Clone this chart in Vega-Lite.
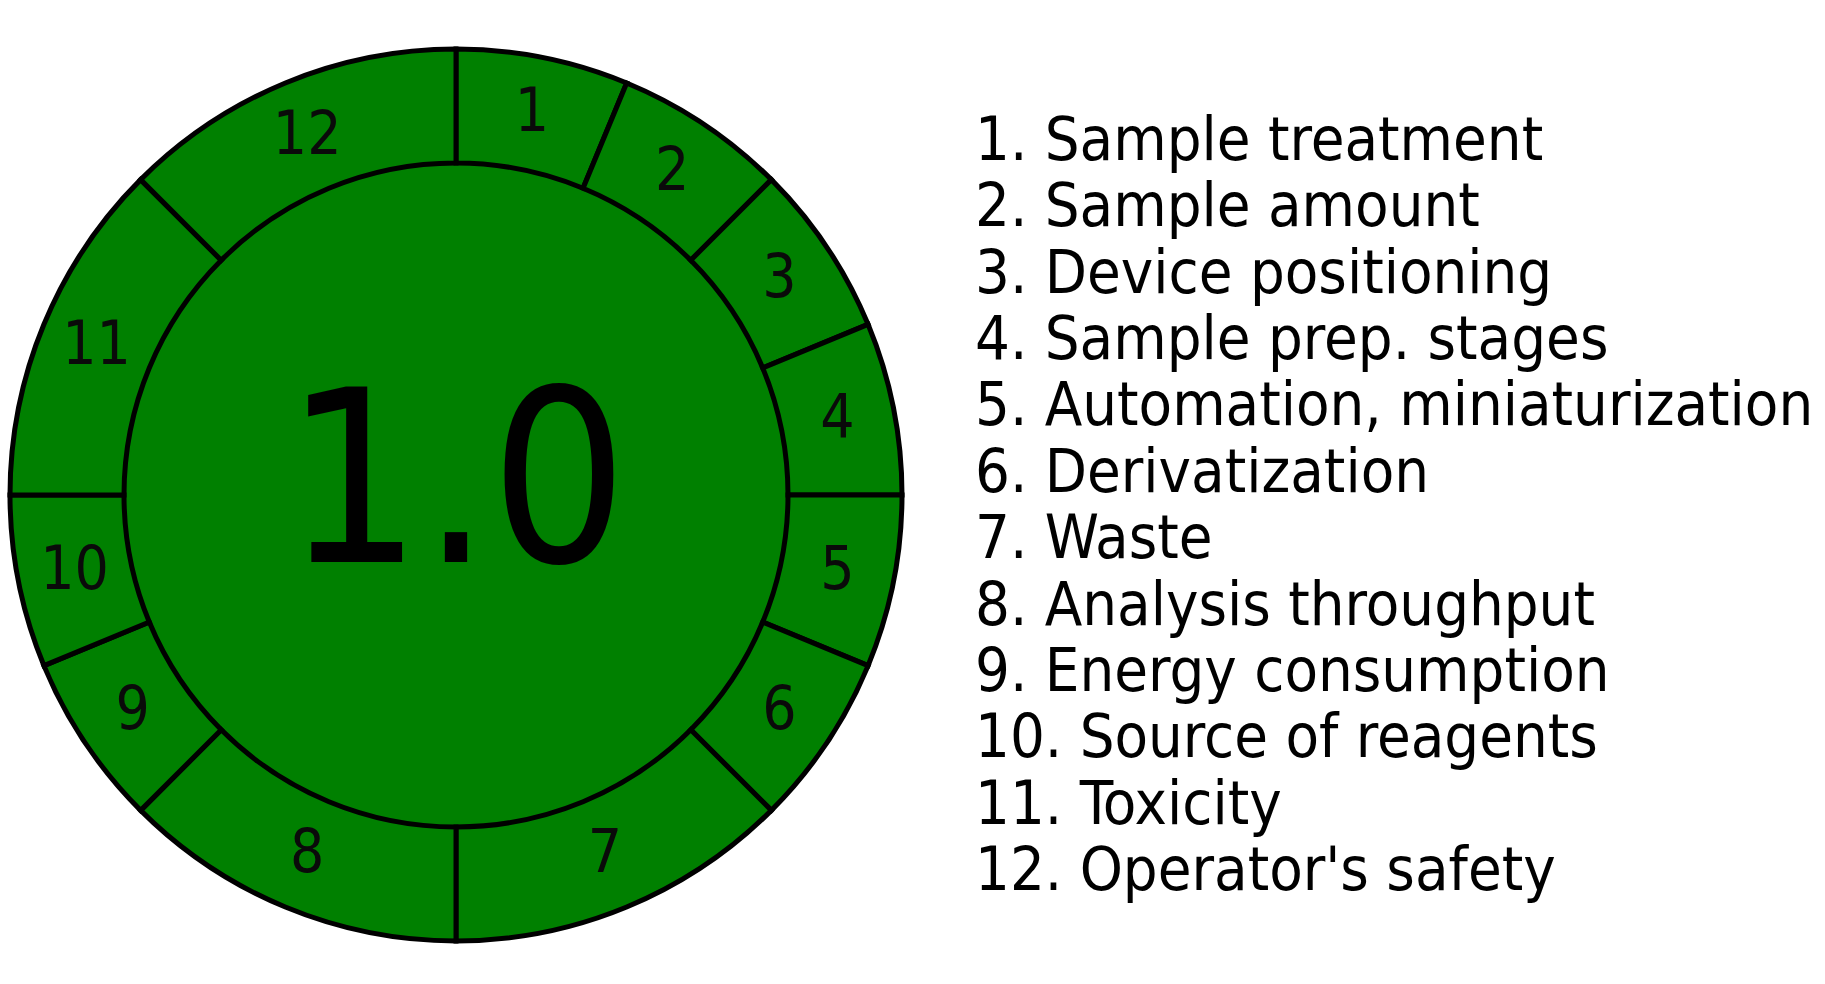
{
  "$schema": "https://vega.github.io/schema/vega-lite/v6.json",
  "padding": {"left": 0, "top": 6, "right": 0, "bottom": 0},
  "background": "white",
  "config": {"view": {"stroke": null}, "concat": {"spacing": 63}},
  "datasets": {
    "criteria": [
      {"id": 1, "label": "1", "name": "1. Sample treatment", "weight": 1, "score": 1.0},
      {"id": 2, "label": "2", "name": "2. Sample amount", "weight": 1, "score": 1.0},
      {"id": 3, "label": "3", "name": "3. Device positioning", "weight": 1, "score": 1.0},
      {"id": 4, "label": "4", "name": "4. Sample prep. stages", "weight": 1, "score": 1.0},
      {"id": 5, "label": "5", "name": "5. Automation, miniaturization", "weight": 1, "score": 1.0},
      {"id": 6, "label": "6", "name": "6. Derivatization", "weight": 1, "score": 1.0},
      {"id": 7, "label": "7", "name": "7. Waste", "weight": 2, "score": 1.0},
      {"id": 8, "label": "8", "name": "8. Analysis throughput", "weight": 2, "score": 1.0},
      {"id": 9, "label": "9", "name": "9. Energy consumption", "weight": 1, "score": 1.0},
      {"id": 10, "label": "10", "name": "10. Source of reagents", "weight": 1, "score": 1.0},
      {"id": 11, "label": "11", "name": "11. Toxicity", "weight": 2, "score": 1.0},
      {"id": 12, "label": "12", "name": "12. Operator's safety", "weight": 2, "score": 1.0}
    ],
    "overall": [{"total": 1, "text": "1.0"}]
  },
  "hconcat": [
    {
      "width": 906,
      "height": 978,
      "layer": [
        {
          "data": {"name": "overall"},
          "mark": {"type": "arc", "outerRadius": 332, "innerRadius": 0, "fill": "#008000", "stroke": "#008000", "strokeWidth": 1},
          "encoding": {
            "theta": {"field": "total", "type": "quantitative", "scale": {"domain": [0, 1]}}
          }
        },
        {
          "data": {"name": "criteria"},
          "mark": {"type": "arc", "outerRadius": 446, "innerRadius": 332, "fill": "#008000", "stroke": "#000000", "strokeWidth": 5},
          "encoding": {
            "theta": {"field": "weight", "type": "quantitative", "stack": true},
            "detail": {"field": "id", "type": "ordinal"},
            "order": {"field": "id", "type": "quantitative", "sort": "ascending"}
          }
        },
        {
          "data": {"name": "criteria"},
          "mark": {"type": "text", "radius": 389, "font": "DejaVu Sans Condensed, DejaVu Sans", "fontSize": 60, "color": "#0a0a0a", "align": "center", "baseline": "middle"},
          "encoding": {
            "theta": {"field": "weight", "type": "quantitative", "stack": true},
            "detail": {"field": "id", "type": "ordinal"},
            "order": {"field": "id", "type": "quantitative", "sort": "ascending"},
            "text": {"field": "label", "type": "nominal"}
          }
        },
        {
          "data": {"name": "overall"},
          "mark": {"type": "text", "font": "DejaVu Sans Condensed, DejaVu Sans", "fontSize": 240, "color": "#000000", "align": "center", "baseline": "middle", "dy": -5},
          "encoding": {
            "text": {"field": "text", "type": "nominal"}
          }
        }
      ],
      "resolve": {"scale": {"theta": "independent"}}
    },
    {
      "width": 856,
      "height": 978,
      "data": {"name": "criteria"},
      "mark": {"type": "text", "font": "DejaVu Sans Condensed, DejaVu Sans", "fontSize": 61, "color": "#000000", "align": "left", "baseline": "alphabetic"},
      "encoding": {
        "x": {"datum": 0, "type": "quantitative", "scale": {"domain": [0, 1], "nice": false, "zero": false}, "axis": null},
        "y": {"field": "id", "type": "quantitative", "scale": {"domain": [-1.3207, 13.417], "reverse": true, "nice": false, "zero": false}, "axis": null},
        "text": {"field": "name", "type": "nominal"}
      }
    }
  ]
}
